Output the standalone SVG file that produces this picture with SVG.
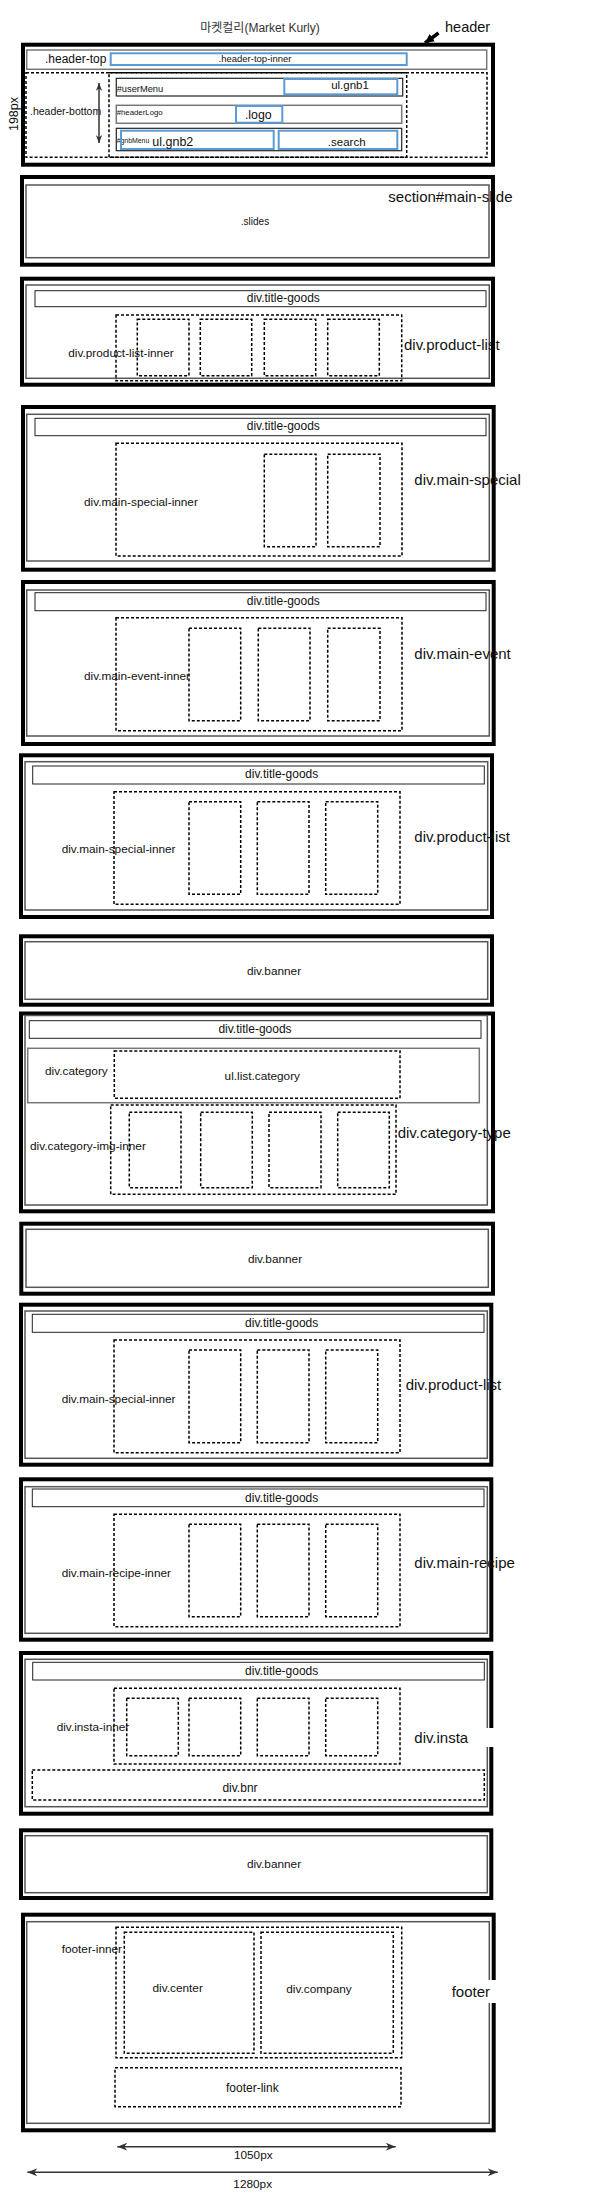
<svg xmlns="http://www.w3.org/2000/svg" width="595" height="2197" viewBox="0 0 595 2197">
<defs>
<style>
.outer{fill:none;stroke:#000;stroke-width:4}
.inner{fill:none;stroke:#555;stroke-width:1.5}
.tg{fill:none;stroke:#222;stroke-width:1}
.dot{fill:none;stroke:#000;stroke-width:1.5;stroke-dasharray:3 2}
.blue{fill:none;stroke:#5b9bd5;stroke-width:2}
.box{fill:none;stroke:#222;stroke-width:1.2}
.gbox{fill:none;stroke:#777;stroke-width:1.5}
text{font-family:"Liberation Sans",Arial,"Noto Sans CJK KR",sans-serif;fill:#111}
.s{font-size:11.8px}
.t{font-size:12px}
.b{font-size:15px}
.m{text-anchor:middle}
.dim{stroke:#333;stroke-width:1.5;fill:none}
</style>
<marker id="ah" viewBox="0 0 10 8" refX="10" refY="4" markerWidth="10" markerHeight="8" markerUnits="userSpaceOnUse" orient="auto-start-reverse">
<path d="M0,0 L10,4 L0,8 L3,4 z" fill="#333"/>
</marker>
<marker id="ahs" viewBox="0 0 10 8" refX="10" refY="4" markerWidth="8" markerHeight="7" markerUnits="userSpaceOnUse" orient="auto-start-reverse">
<path d="M0,0 L10,4 L0,8 L3,4 z" fill="#333"/>
</marker>
<marker id="hd" viewBox="0 0 8 8" refX="8" refY="4" markerWidth="9" markerHeight="9" markerUnits="userSpaceOnUse" orient="auto">
<path d="M0,0 L8,4 L0,8 z" fill="#000"/>
</marker>
</defs>
<rect width="595" height="2197" fill="#fff"/>

<text x="260" y="32" class="m" style="font-size:12px;fill:#333">마켓컬리(Market Kurly)</text>

<g id="header">
<rect class="outer" x="23" y="44.7" width="470" height="120"/>
<rect class="gbox" x="26.7" y="50" width="460" height="19.3"/>
<text x="45" y="62.7" class="t">.header-top</text>
<rect class="blue" x="110.7" y="53.3" width="296" height="11.7"/>
<text x="255" y="61.7" class="m" style="font-size:9.5px">.header-top-inner</text>
<rect class="dot" x="26" y="72.7" width="461" height="84.6"/>
<text x="30" y="115" style="font-size:10.5px">.header-bottom</text>
<rect class="dot" x="109" y="72.7" width="297.7" height="84.6"/>
<rect class="box" x="116.3" y="78.3" width="286.4" height="17.7"/>
<text x="116.7" y="91.7" style="font-size:9.3px">#userMenu</text>
<rect class="blue" x="284.3" y="79" width="113" height="15.3"/>
<text x="350" y="89.3" class="m" style="font-size:11.5px">ul.gnb1</text>
<rect class="gbox" x="116.3" y="105.3" width="285.4" height="18"/>
<text x="116.7" y="115" style="font-size:7.8px">#headerLogo</text>
<rect class="blue" x="236" y="106" width="46.3" height="16.7"/>
<text x="258.3" y="119" class="m" style="font-size:12.3px">.logo</text>
<rect class="box" x="116.3" y="128.3" width="285.4" height="22.4"/>
<text x="116.7" y="142.7" style="font-size:6.9px">#gnbMenu</text>
<rect class="blue" x="121" y="130.7" width="152.7" height="18.3"/>
<text x="152.3" y="145.7" style="font-size:12.5px">ul.gnb2</text>
<rect class="blue" x="278.7" y="130.7" width="118.6" height="18.3"/>
<text x="346.7" y="145.7" class="m" style="font-size:11.5px">.search</text>
<text x="18" y="114" class="m" transform="rotate(-90 18 114)" style="font-size:12.5px">198px</text>
<text x="445" y="32" style="font-size:14.5px">header</text>
</g>

<g id="main-slide">
<rect class="outer" x="22" y="177" width="471" height="87.7"/>
<rect class="inner" x="26" y="185" width="463" height="72.7"/>
<text x="255" y="225" class="m" style="font-size:10px">.slides</text>
<text x="388.3" y="201.7" class="b">section#main-slide</text>
</g>

<g id="product-list-1">
<rect class="outer" x="22" y="278.7" width="471" height="106"/>
<rect class="inner" x="26" y="285" width="463.3" height="93.3"/>
<rect class="tg" x="35" y="290.7" width="451" height="16"/>
<text x="283.3" y="301.7" class="m t">div.title-goods</text>
<rect class="dot" x="116" y="315" width="285.7" height="65.7"/>
<rect class="dot" x="137.3" y="319.3" width="51.7" height="56.4"/>
<rect class="dot" x="200.3" y="319.3" width="51.4" height="56.4"/>
<rect class="dot" x="264.3" y="319.3" width="51.4" height="56.4"/>
<rect class="dot" x="327.7" y="319.3" width="51.6" height="56.4"/>
<text x="68.3" y="357.3" class="s">div.product-list-inner</text>
<text x="404" y="350" class="b">div.product-list</text>
</g>

<g id="main-special">
<rect class="outer" x="23" y="407" width="470.7" height="162.7"/>
<rect class="inner" x="26.7" y="414.3" width="462.6" height="146.7"/>
<rect class="tg" x="35" y="418.3" width="451" height="17.4"/>
<text x="283.3" y="430" class="m t">div.title-goods</text>
<rect class="dot" x="116" y="443.3" width="286" height="112.7"/>
<rect class="dot" x="264.3" y="454.3" width="51.7" height="92.4"/>
<rect class="dot" x="327.7" y="454.3" width="52.3" height="92.4"/>
<text x="84" y="505.7" class="s">div.main-special-inner</text>
<text x="414.3" y="485" class="b">div.main-special</text>
</g>

<g id="main-event">
<rect class="outer" x="23" y="582" width="470.7" height="162"/>
<rect class="inner" x="26.7" y="590" width="462.6" height="146"/>
<rect class="tg" x="35" y="592.7" width="451" height="18"/>
<text x="283.3" y="605" class="m t">div.title-goods</text>
<rect class="dot" x="116" y="617.7" width="286" height="113"/>
<rect class="dot" x="189" y="628.3" width="51.7" height="92.4"/>
<rect class="dot" x="258.3" y="628.3" width="51.7" height="92.4"/>
<rect class="dot" x="327.7" y="628.3" width="52.3" height="92.4"/>
<text x="84" y="680" class="s">div.main-event-inner</text>
<text x="414.3" y="659.3" class="b">div.main-event</text>
</g>

<g id="product-list-2">
<rect class="outer" x="21" y="755.3" width="471" height="161.7"/>
<rect class="inner" x="25" y="761.7" width="462.7" height="148.3"/>
<rect class="tg" x="32.7" y="766" width="451.6" height="18"/>
<text x="281.7" y="778.3" class="m t">div.title-goods</text>
<rect class="dot" x="114" y="791.7" width="286" height="112.6"/>
<rect class="dot" x="189" y="801.7" width="51.7" height="92.6"/>
<rect class="dot" x="257.3" y="801.7" width="51.7" height="92.6"/>
<rect class="dot" x="325.7" y="801.7" width="52" height="92.6"/>
<text x="61.7" y="853.3" class="s">div.main-special-inner</text>
<text x="414.3" y="841.7" class="b">div.product-list</text>
</g>

<g id="banner-1">
<rect class="outer" x="21" y="936.3" width="471" height="68.4"/>
<rect class="inner" x="25" y="941.7" width="462.7" height="57.6"/>
<text x="274" y="975" class="m s">div.banner</text>
</g>

<g id="category-type">
<rect class="outer" x="21" y="1013.5" width="472" height="197.8"/>
<rect class="inner" x="25" y="1015.5" width="462.3" height="189.5"/>
<rect class="tg" x="29.3" y="1020.7" width="451.7" height="17.6"/>
<text x="255" y="1033.3" class="m t">div.title-goods</text>
<rect class="gbox" x="27.7" y="1048.3" width="451.6" height="54.4"/>
<text x="45" y="1075" class="s">div.category</text>
<rect class="dot" x="114.3" y="1051" width="285.7" height="47.3"/>
<text x="262.3" y="1080" class="m s">ul.list.category</text>
<rect class="dot" x="110.7" y="1105" width="285.3" height="89.3"/>
<rect class="dot" x="129.3" y="1112.3" width="51.7" height="75.4"/>
<rect class="dot" x="200.7" y="1112.3" width="51.6" height="75.4"/>
<rect class="dot" x="269" y="1112.3" width="52" height="75.4"/>
<rect class="dot" x="337.7" y="1112.3" width="51.6" height="75.4"/>
<text x="30" y="1150" class="s">div.category-img-inner</text>
<text x="397.7" y="1138.3" class="b">div.category-type</text>
</g>

<g id="banner-2">
<rect class="outer" x="21.3" y="1223.7" width="471.7" height="70"/>
<rect class="inner" x="26" y="1229.3" width="462.3" height="58"/>
<text x="275" y="1263.3" class="m s">div.banner</text>
</g>

<g id="product-list-3">
<rect class="outer" x="21" y="1304.7" width="470.3" height="160"/>
<rect class="inner" x="25" y="1311" width="462.3" height="147.3"/>
<rect class="tg" x="32.3" y="1314.3" width="451.7" height="18"/>
<text x="281.7" y="1326.7" class="m t">div.title-goods</text>
<rect class="dot" x="114" y="1340" width="286" height="112.7"/>
<rect class="dot" x="189" y="1350" width="51.7" height="92.7"/>
<rect class="dot" x="257.3" y="1350" width="51.7" height="92.7"/>
<rect class="dot" x="325.7" y="1350" width="52" height="92.7"/>
<text x="61.7" y="1402.7" class="s">div.main-special-inner</text>
<text x="405.7" y="1390" class="b">div.product-list</text>
</g>

<g id="main-recipe">
<rect class="outer" x="21" y="1479.3" width="470.3" height="160.4"/>
<rect class="inner" x="25" y="1486.7" width="462.3" height="146.6"/>
<rect class="tg" x="32.3" y="1489" width="451.7" height="17.7"/>
<text x="281.7" y="1501.7" class="m t">div.title-goods</text>
<rect class="dot" x="114" y="1514.3" width="286" height="112.4"/>
<rect class="dot" x="189" y="1524.3" width="51.7" height="92.4"/>
<rect class="dot" x="257.3" y="1524.3" width="51.7" height="92.4"/>
<rect class="dot" x="325.7" y="1524.3" width="52" height="92.4"/>
<text x="61.7" y="1577.3" class="s">div.main-recipe-inner</text>
<text x="414.3" y="1568.3" class="b">div.main-recipe</text>
</g>

<g id="insta">
<rect class="outer" x="21" y="1653" width="470.3" height="160.7"/>
<rect class="inner" x="25" y="1659.3" width="462.3" height="147.4"/>
<rect class="tg" x="32.7" y="1662.3" width="451.6" height="17.7"/>
<text x="281.7" y="1675" class="m t">div.title-goods</text>
<rect class="dot" x="114" y="1688.3" width="286" height="75.7"/>
<rect class="dot" x="126.7" y="1698.3" width="51.6" height="57.4"/>
<rect class="dot" x="189" y="1698.3" width="51.7" height="57.4"/>
<rect class="dot" x="257.3" y="1698.3" width="51.7" height="57.4"/>
<rect class="dot" x="325.7" y="1698.3" width="52" height="57.4"/>
<text x="56.7" y="1730.7" class="s">div.insta-inner</text>
<rect class="dot" x="32.3" y="1770" width="452" height="30"/>
<text x="240" y="1791.7" class="m t">div.bnr</text>
<rect x="412" y="1728" width="84" height="19" fill="#fff"/>
<text x="414.3" y="1742.7" class="b">div.insta</text>
</g>

<g id="banner-3">
<rect class="outer" x="21" y="1830.3" width="470.3" height="67.7"/>
<rect class="inner" x="25" y="1835.7" width="462.3" height="57"/>
<text x="274" y="1868.3" class="m s">div.banner</text>
</g>

<g id="footer">
<rect class="outer" x="23" y="1914.7" width="470.7" height="215.6"/>
<rect class="inner" x="26.7" y="1921.7" width="462.6" height="201.6"/>
<rect class="dot" x="116" y="1927.3" width="285.7" height="130.4"/>
<rect class="dot" x="124.3" y="1932.3" width="129.7" height="121"/>
<rect class="dot" x="261" y="1932.3" width="132.3" height="121"/>
<text x="61.7" y="1953.3" class="s">footer-inner</text>
<text x="177.7" y="1991.7" class="m s">div.center</text>
<text x="319" y="1992.7" class="m s">div.company</text>
<rect class="dot" x="115" y="2067.7" width="286" height="39"/>
<text x="252.3" y="2091.7" class="m t">footer-link</text>
<rect x="449" y="1980" width="48" height="23" fill="#fff"/>
<text x="451.7" y="1996.7" class="b">footer</text>
</g>

<g id="connectors">
<line x1="438.5" y1="33" x2="425" y2="43" stroke="#000" stroke-width="3.5" marker-end="url(#hd)"/>
<line class="dim" x1="99" y1="83" x2="99" y2="143" marker-start="url(#ahs)" marker-end="url(#ahs)"/>
<line class="dim" x1="117.3" y1="2146.7" x2="395.7" y2="2146.7" marker-start="url(#ah)" marker-end="url(#ah)"/>
<line class="dim" x1="27.3" y1="2172.3" x2="497.7" y2="2172.3" marker-start="url(#ah)" marker-end="url(#ah)"/>
</g>
<text x="253.3" y="2159.3" class="m s">1050px</text>
<text x="252.7" y="2188.3" class="m s">1280px</text>
</svg>
